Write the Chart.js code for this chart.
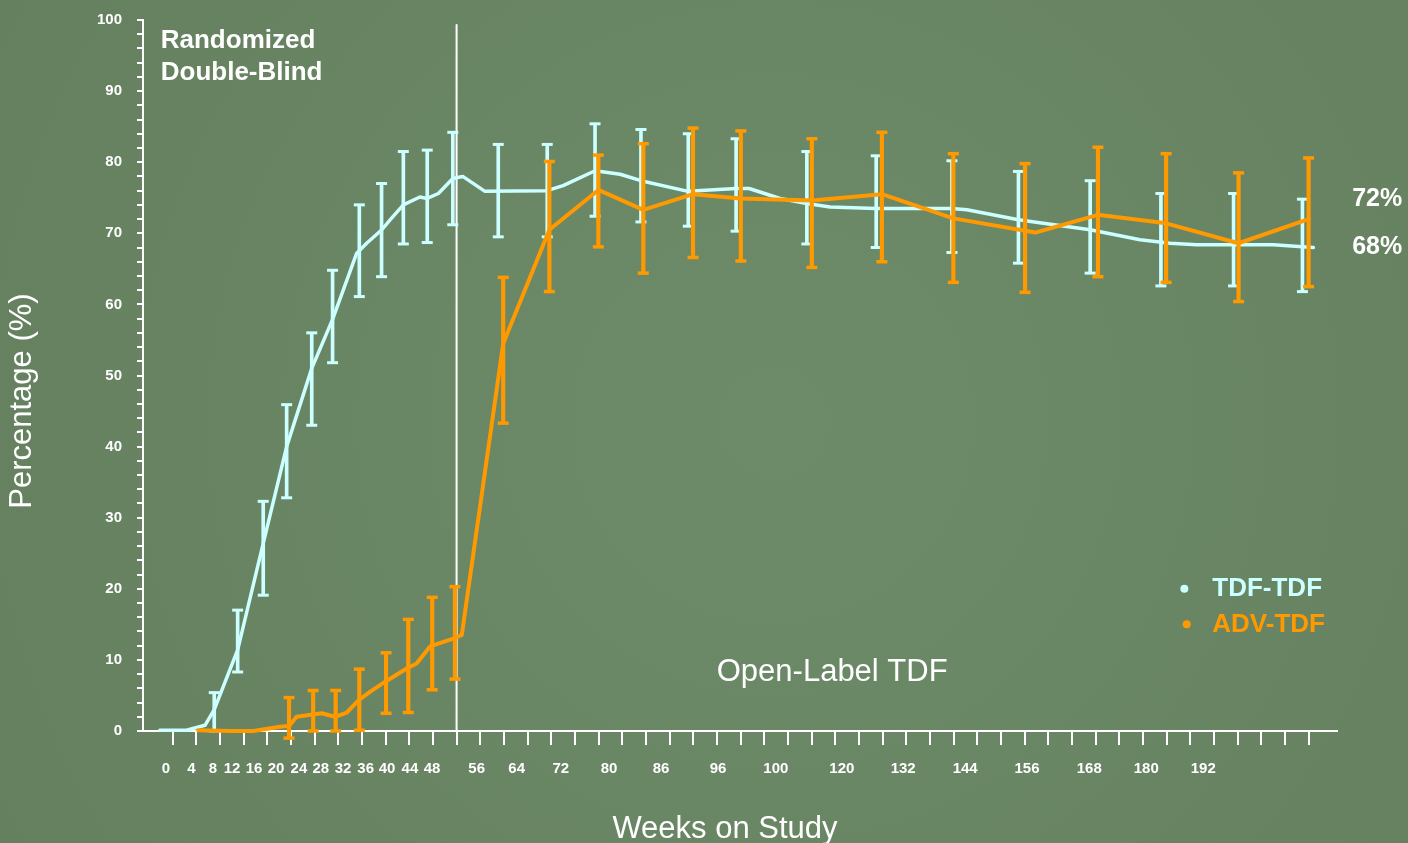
<!DOCTYPE html>
<html>
<head>
<meta charset="utf-8">
<title>Percentage over weeks on study: TDF-TDF vs ADV-TDF</title>
<script src="https://cdn.jsdelivr.net/npm/chart.js@4.4.1/dist/chart.umd.min.js"></script>
<style>
  html, body { margin: 0; padding: 0; background: #6a8665; overflow: hidden; }
  canvas { display: block; }
</style>
</head>
<body>
<canvas id="chart" width="1408" height="843"></canvas>
<script>
// Visits sit on an evenly spaced grid of slots (one slot per axis tick);
// the week labels under the axis are placed on that same slot grid.
const seriesNames = ['TDF-TDF', 'ADV-TDF'];

const weekLabels = ['0', '4', '8', '12', '16', '20', '24', '28', '32', '36', '40', '44', '48',
  '56', '64', '72', '80', '86', '96', '100', '120', '132', '144', '156', '168', '180', '192'];
const weekLabelSlots = [0.72, 1.80, 2.70, 3.51, 4.44, 5.37, 6.34, 7.26, 8.20, 9.16, 10.06, 11.03, 11.96,
  13.85, 15.54, 17.40, 19.44, 21.64, 24.05, 26.49, 29.28, 31.87, 34.49, 37.10, 39.73, 42.14, 44.55];
const tickSlots = Array.from({ length: 49 }, (_, i) => i + 1);
const phaseBoundarySlot = 13;

// TDF-TDF: response curve and its confidence intervals
const tdfLineSlots = [0.46, 1.59, 2.37, 2.76, 3.75, 4.83, 5.82, 6.88, 7.76, 8.78,
  9.20, 9.84, 10.19, 10.75, 11.45, 11.76, 12.23, 12.84, 13.26, 14.20,
  16.82, 17.50, 18.85, 19.91, 20.79, 22.78, 24.81, 25.36, 26.67, 27.80,
  28.78, 30.73, 33.93, 34.56, 36.74, 37.79, 39.77, 41.88, 43.15, 44.28,
  47.51, 49.20];
const tdfValues = [0.1, 0.1, 0.8, 3.0, 11.4, 26.4, 40.0, 51.0, 57.9, 67.2,
  68.6, 70.5, 71.9, 74.0, 75.1, 74.9, 75.6, 77.7, 78.0, 75.9,
  76.0, 76.7, 78.8, 78.3, 77.4, 75.9, 76.3, 76.3, 74.9, 74.2,
  73.7, 73.5, 73.5, 73.3, 71.9, 71.4, 70.5, 69.1, 68.6, 68.4,
  68.4, 68];
const tdfBarSlots = [2.76, 3.75, 4.83, 5.82, 6.88, 7.76, 8.89, 9.83, 10.75, 11.76,
  12.84, 14.76, 16.83, 18.85, 20.79, 22.79, 24.81, 27.80, 30.73, 33.93,
  36.74, 39.77, 42.76, 45.83, 48.74];
const tdfLow = [0, 8.3, 19.1, 32.8, 43.0, 51.8, 61.1, 63.9, 68.5, 68.7,
  71.2, 69.5, 69.5, 72.4, 71.6, 71.0, 70.3, 68.5, 68.0, 67.3,
  65.8, 64.4, 62.6, 62.6, 61.8];
const tdfHigh = [5.4, 17.0, 32.3, 45.9, 56.0, 64.8, 74.0, 77.0, 81.5, 81.7,
  84.2, 82.5, 82.5, 85.4, 84.6, 84.0, 83.3, 81.5, 80.9, 80.2,
  78.7, 77.4, 75.6, 75.6, 74.8];

// ADV-TDF: response curve and its confidence intervals
const advLineSlots = [2.08, 3.42, 4.41, 5.54, 5.92, 6.24, 7.30, 7.86, 8.36, 8.89,
  9.34, 9.97, 10.89, 11.31, 11.88, 12.86, 13.22, 14.97, 16.92, 18.99,
  20.89, 22.99, 25.01, 28.01, 30.97, 33.99, 37.45, 40.10, 42.98, 46.04,
  49.00];
const advValues = [0.1, 0, 0, 0.6, 0.7, 2.0, 2.5, 2.0, 2.6, 4.4,
  5.5, 6.9, 8.8, 9.5, 11.9, 13.0, 13.5, 54.5, 70.5, 76.1,
  73.3, 75.5, 74.9, 74.6, 75.5, 72.1, 70.1, 72.6, 71.4, 68.6,
  72];
const advBarSlots = [5.92, 6.94, 7.89, 8.89, 10.02, 10.96, 11.97, 12.93,
  14.97, 16.92, 18.99, 20.89, 22.99, 25.01, 28.01, 30.97,
  33.99, 37.02, 40.10, 42.98, 46.04, 49.00];
const advLow = [-1.0, 0, 0, 0.1, 2.5, 2.6, 5.8, 7.3,
  43.3, 61.8, 68.1, 64.4, 66.6, 66.1, 65.2, 66.0,
  63.1, 61.7, 63.9, 63.1, 60.4, 62.5];
const advHigh = [4.7, 5.7, 5.7, 8.7, 11.0, 15.7, 18.8, 20.3,
  63.8, 80.1, 81.0, 82.6, 84.8, 84.4, 83.3, 84.2,
  81.2, 79.8, 82.1, 81.2, 78.5, 80.6];

const FONT = '"Liberation Sans", Arial, Helvetica, sans-serif';
const WHITE = '#ffffff';
const CYAN = '#ccffff';
const ORANGE = '#ff9900';
const X_MIN = -0.25, X_MAX = 50.2;

const toPoints = (xs, ys) => xs.map((x, i) => ({ x, y: ys[i] }));
const toRanges = (xs, lo, hi) => xs.map((x, i) => ({ x, y: [lo[i], hi[i]] }));
const toCaps = (xs, lo, hi) => xs.flatMap((x, i) => [{ x, y: lo[i] }, { x, y: hi[i] }]);

function lineSet(label, data, color, width, order) {
  return { type: 'line', label, data, borderColor: color, borderWidth: width,
    pointRadius: 0, tension: 0, borderCapStyle: 'round', borderJoinStyle: 'round',
    clip: false, order };
}
function rangeSet(label, data, color, width, order) {
  return { type: 'bar', label, data, backgroundColor: color, borderWidth: 0,
    barThickness: width, grouped: false, clip: false, order };
}
function capSet(label, data, color, width, order) {
  return { type: 'line', label, data, showLine: false, pointStyle: 'line',
    pointRadius: 5.5, pointBorderColor: color, pointBorderWidth: width,
    pointBackgroundColor: color, clip: false, order };
}

const background = {
  id: 'background',
  beforeDraw(chart) {
    const { ctx, width, height } = chart;
    const g = ctx.createRadialGradient(width * 0.55, height * 0.5, 40, width * 0.55, height * 0.5, width * 0.62);
    g.addColorStop(0, '#6e8b69');
    g.addColorStop(1, '#64805f');
    ctx.save();
    ctx.fillStyle = g;
    ctx.fillRect(0, 0, width, height);
    ctx.restore();
  }
};

const annotations = {
  id: 'annotations',
  afterDraw(chart) {
    const { ctx, scales: { x, y } } = chart;
    const px = v => x.getPixelForValue(v);
    const py = v => y.getPixelForValue(v);
    ctx.save();
    ctx.fillStyle = WHITE;

    // study phase captions
    ctx.font = `bold 26px ${FONT}`;
    ctx.textAlign = 'left';
    ctx.textBaseline = 'alphabetic';
    ctx.fillText('Randomized', px(0.5), py(96.1));
    ctx.fillText('Double-Blind', px(0.5), py(91.6));

    ctx.font = `31px ${FONT}`;
    ctx.textAlign = 'center';
    ctx.textBaseline = 'middle';
    ctx.fillText('Open-Label TDF', px(28.87), py(8.3));

    // final values at the right end
    ctx.font = `bold 25px ${FONT}`;
    ctx.textAlign = 'left';
    ctx.fillText(`${advValues[advValues.length - 1]}%`, px(50.84), py(74.8));
    ctx.fillText(`${tdfValues[tdfValues.length - 1]}%`, px(50.84), py(68.1));

    // legend
    ctx.font = `bold 26px ${FONT}`;
    [[seriesNames[0], CYAN, 20.0, 43.75], [seriesNames[1], ORANGE, 15.0, 43.85]].forEach(([name, color, v, dot]) => {
      ctx.fillStyle = color;
      ctx.beginPath();
      ctx.arc(px(dot), py(v), 4, 0, Math.PI * 2);
      ctx.fill();
      ctx.fillText(name, px(44.93), py(v));
    });

    // axis titles
    ctx.fillStyle = WHITE;
    ctx.font = `31px ${FONT}`;
    ctx.textAlign = 'center';
    ctx.fillText('Weeks on Study', px(24.34), chart.height - 14);
    ctx.translate(22.5, py(46.4));
    ctx.rotate(-Math.PI / 2);
    ctx.fillText('Percentage (%)', 0, 0);
    ctx.restore();
  }
};

Chart.defaults.color = WHITE;
Chart.defaults.font.family = FONT;

new Chart(document.getElementById('chart'), {
  type: 'line',
  data: {
    datasets: [
      lineSet('phase boundary', [{ x: phaseBoundarySlot, y: 0 }, { x: phaseBoundarySlot, y: 99.3 }], WHITE, 2, 20),
      rangeSet(seriesNames[0] + ' range', toRanges(tdfBarSlots, tdfLow, tdfHigh), CYAN, 3, 12),
      capSet(seriesNames[0] + ' caps', toCaps(tdfBarSlots, tdfLow, tdfHigh), CYAN, 3, 11),
      lineSet(seriesNames[0], toPoints(tdfLineSlots, tdfValues), CYAN, 3.5, 10),
      rangeSet(seriesNames[1] + ' range', toRanges(advBarSlots, advLow, advHigh), ORANGE, 3.5, 6),
      capSet(seriesNames[1] + ' caps', toCaps(advBarSlots, advLow, advHigh), ORANGE, 3.5, 5),
      lineSet(seriesNames[1], toPoints(advLineSlots, advValues), ORANGE, 4, 4)
    ]
  },
  options: {
    responsive: false,
    animation: false,
    devicePixelRatio: 1,
    events: [],
    layout: { padding: { top: 20, right: 71, bottom: 0, left: 0 } },
    plugins: { legend: { display: false }, tooltip: { enabled: false }, title: { display: false } },
    scales: {
      x: {
        type: 'linear', position: 'bottom', min: X_MIN, max: X_MAX, offset: false, weight: 0,
        afterBuildTicks: s => { s.ticks = tickSlots.map(value => ({ value })); },
        afterFit: s => { s.height = 14; },
        ticks: { display: false },
        grid: { display: true, drawOnChartArea: false, drawTicks: true, tickLength: 14, color: WHITE, lineWidth: 2, offset: false },
        border: { display: true, color: WHITE, width: 2 }
      },
      x2: {
        type: 'linear', position: 'bottom', axis: 'x', min: X_MIN, max: X_MAX, offset: false, weight: 1,
        afterBuildTicks: s => { s.ticks = weekLabelSlots.map(value => ({ value })); },
        afterFit: s => { s.height = 98; },
        ticks: {
          autoSkip: false, maxRotation: 0, minRotation: 0, padding: 15, color: WHITE,
          font: { family: FONT, size: 15, weight: 'bold' },
          callback: (value, index) => weekLabels[index]
        },
        grid: { display: false, drawTicks: false },
        border: { display: false }
      },
      y: {
        type: 'linear', position: 'left', min: 0, max: 100,
        afterFit: s => { s.width = 143; s.paddingTop = 0; s.paddingBottom = 0; },
        ticks: {
          stepSize: 2, autoSkip: false, padding: 15, color: WHITE,
          font: { family: FONT, size: 15, weight: 'bold' },
          callback: v => (Math.round(v) % 10 === 0 ? String(Math.round(v)) : '')
        },
        grid: { drawOnChartArea: false, drawTicks: true, tickLength: 6, color: WHITE, lineWidth: 2 },
        border: { display: true, color: WHITE, width: 2 }
      }
    }
  },
  plugins: [background, annotations]
});
</script>
</body>
</html>
